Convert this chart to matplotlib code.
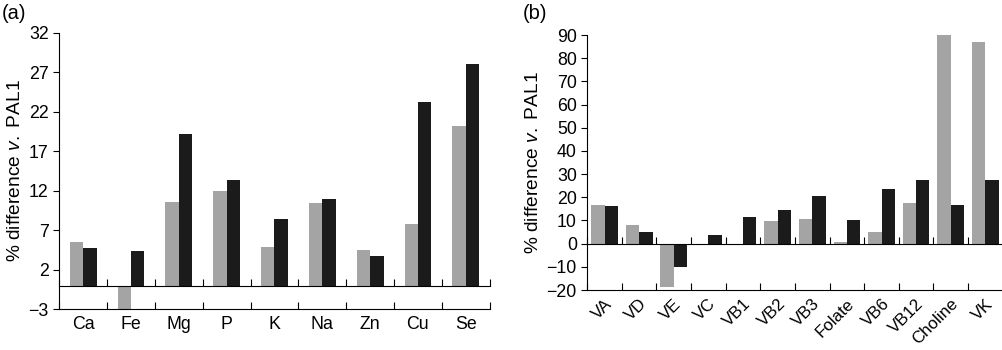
import numpy as np
import matplotlib
matplotlib.use("Agg")
import matplotlib.pyplot as plt

plt.rcParams['font.family'] = ['Liberation Sans', 'DejaVu Sans']
plt.rcParams['mathtext.fontset'] = 'custom'
plt.rcParams['mathtext.rm'] = 'Liberation Sans'
plt.rcParams['mathtext.it'] = 'Liberation Sans:italic'

# Panel (a): minerals
minerals = ["Ca", "Fe", "Mg", "P", "K", "Na", "Zn", "Cu", "Se"]
min_gray = [5.5, -3.0, 10.6, 12.0, 4.9, 10.5, 4.5, 7.8, 20.2]
min_black = [4.8, 4.4, 19.2, 13.4, 8.4, 11.0, 3.7, 23.2, 28.0]
min_yticks = [-3, 2, 7, 12, 17, 22, 27, 32]

# Panel (b): vitamins
vitamins = ["VA", "VD", "VE", "VC", "VB1", "VB2", "VB3", "Folate", "VB6",
            "VB12", "Choline", "VK"]
vit_gray = [16.7, 8.2, -18.8, 0.0, 0.0, 9.6, 10.6, 0.6, 4.9, 17.5, 90.0, 86.8]
vit_black = [16.1, 5.2, -9.9, 3.6, 11.6, 14.7, 20.4, 10.1, 23.7, 27.5, 16.5, 27.5]
vit_yticks = [-20, -10, 0, 10, 20, 30, 40, 50, 60, 70, 80, 90]

GRAY = "#a4a4a4"
BLACK = "#1b1b1b"
FS = 12.8

fig = plt.figure(figsize=(10.03, 3.5), dpi=100)
axA = fig.add_axes([0.0591, 0.1163, 0.4291, 0.7903])
axB = fig.add_axes([0.5855, 0.1714, 0.4142, 0.7286])


def draw(ax, cats, g, b, yticks, width, rot):
    n = len(cats)
    x = np.arange(n)
    ax.bar(x - width / 2, g, width, color=GRAY, linewidth=0)
    ax.bar(x + width / 2, b, width, color=BLACK, linewidth=0)
    ax.set_xlim(-0.5, n - 0.5)
    ax.set_ylim(yticks[0], yticks[-1])
    ax.set_yticks(yticks)
    ax.set_yticklabels([str(t).replace("-", "\u2212") for t in yticks], fontsize=FS)
    ax.tick_params(axis='y', direction='out', length=4.5, width=0.8, pad=3)
    bounds = np.arange(n + 1) - 0.5
    ax.set_xticks(bounds, minor=False)
    ax.set_xticklabels([])
    ax.tick_params(axis='x', which='major', direction='in', length=5, width=0.8)
    ax.set_xticks(x, minor=True)
    if rot:
        ax.set_xticklabels(cats, minor=True, fontsize=12.2, rotation=45,
                           ha='right', va='top', rotation_mode='anchor')
        ax.tick_params(axis='x', which='minor', length=0, pad=4.5)
    else:
        ax.set_xticklabels(cats, minor=True, fontsize=FS)
        ax.tick_params(axis='x', which='minor', length=0, pad=5)
    # zero line with upward ticks at category boundaries
    ax.plot(bounds, np.zeros_like(bounds), color='black', lw=0.8,
            marker=2, markersize=5, markeredgewidth=0.8, clip_on=False, zorder=3)
    for s in ["top", "right"]:
        ax.spines[s].set_visible(False)
    for s in ["left", "bottom"]:
        ax.spines[s].set_linewidth(0.8)
    ax.set_ylabel(r"% difference $\mathit{v.}$ PAL1", fontsize=13.8, labelpad=3)


draw(axA, minerals, min_gray, min_black, min_yticks, 0.28, False)
draw(axB, vitamins, vit_gray, vit_black, vit_yticks, 0.385, True)

fig.text(0.002, 0.988, "(a)", fontsize=14.5, ha='left', va='top')
fig.text(0.521, 0.988, "(b)", fontsize=14.5, ha='left', va='top')

fig.savefig("out.png", dpi=100)
